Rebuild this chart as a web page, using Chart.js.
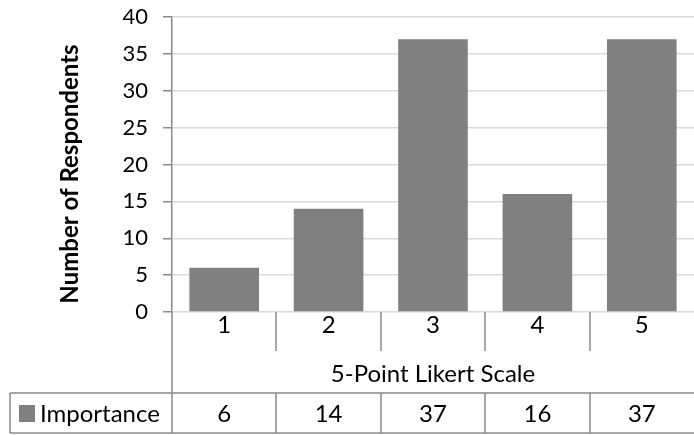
<!DOCTYPE html>
<html>
<head>
<meta charset="utf-8">
<script src="https://cdn.jsdelivr.net/npm/chart.js@4"></script>
<style>
  html, body { margin: 0; padding: 0; background: #fff; }
  #wrap { width: 694px; height: 435px; }
</style>
</head>
<body>
<div id="wrap"><canvas id="myChart"></canvas></div>
<script>
// datos del grafico
const categories = ['1', '2', '3', '4', '5'];
const importance = [6, 14, 37, 16, 37];
const seriesName = 'Importance';
const xTitle = '5-Point Likert Scale';
const yTitle = 'Number of Respondents';

const lineColor = '#8a8a8a';
const barColor = '#808080';
const fontFam = 'Lato, "Open Sans", sans-serif';

// tabla de datos debajo del eje (estilo Excel) + titulo del eje y
const dataTable = {
    id: 'dataTable',
    afterDraw(chart) {
        const ctx = chart.ctx;
        const x = chart.scales.x;
        const area = chart.chartArea;
        const n = categories.length;
        const w = (x.right - x.left) / n;
        const b = area.bottom;
        const rowTop = b + 81;
        const rowBot = b + 121;

        ctx.save();
        ctx.strokeStyle = lineColor;
        ctx.lineWidth = 1.5;
        ctx.beginPath();
        // eje y sigue hasta abajo
        ctx.moveTo(x.left, b);
        ctx.lineTo(x.left, rowBot);
        for (let i = 1; i < n; i++) {
            let px = Math.round(x.left + i * w);
            ctx.moveTo(px, b);
            ctx.lineTo(px, b + 39);
            ctx.moveTo(px, rowTop);
            ctx.lineTo(px, rowBot);
        }
        ctx.moveTo(10, rowTop);
        ctx.lineTo(x.right, rowTop);
        ctx.moveTo(10, rowBot);
        ctx.lineTo(x.right, rowBot);
        ctx.moveTo(10, rowTop);
        ctx.lineTo(10, rowBot);
        ctx.stroke();

        ctx.fillStyle = '#000';
        ctx.font = '24px ' + fontFam;
        ctx.textAlign = 'center';
        ctx.textBaseline = 'alphabetic';
        categories.forEach((c, i) => {
            let cx = x.getPixelForValue(i);
            ctx.fillText(c, cx, b + 21);
            ctx.fillText(String(importance[i]), cx, rowTop + 29);
        });
        ctx.fillText(xTitle, (x.left + x.right) / 2, b + 70);

        // leyenda
        ctx.fillStyle = barColor;
        ctx.fillRect(19, rowTop + 12, 16, 17);
        ctx.fillStyle = '#000';
        ctx.textAlign = 'left';
        ctx.fillText(seriesName, 40, rowTop + 29);

        // titulo eje y
        ctx.translate(70, 174);
        ctx.rotate(-Math.PI / 2);
        ctx.font = 'bold 24px ' + fontFam;
        ctx.textAlign = 'center';
        ctx.textBaseline = 'middle';
        ctx.fillText(yTitle, 0, 0);
        ctx.restore();
    }
};

let ctx = document.getElementById('myChart').getContext('2d');
let chart = new Chart(ctx, {
    type: 'bar',
    data: {
        labels: categories,
        datasets: [{
            label: seriesName,
            backgroundColor: barColor,
            data: importance,
            categoryPercentage: 0.667,
            barPercentage: 1
        }]
    },
    options: {
        responsive: true,
        maintainAspectRatio: false,
        animation: false,
        layout: { padding: { left: 0, top: 17, right: 0, bottom: 123 } },
        plugins: {
            legend: { display: false },
            tooltip: { enabled: false }
        },
        scales: {
            x: { display: false },
            y: {
                min: 0,
                max: 40,
                afterFit: function(scale) {
                    scale.width = 172;
                    scale.paddingTop = 0;
                    scale.paddingBottom = 0;
                },
                ticks: {
                    stepSize: 5,
                    color: '#000',
                    padding: 15,
                    font: { family: fontFam, size: 22 }
                },
                grid: {
                    color: '#d9d9d9',
                    tickColor: lineColor,
                    tickLength: 9,
                    lineWidth: 1.5
                },
                border: { color: lineColor, width: 1.5 }
            }
        }
    },
    plugins: [dataTable]
});
</script>
</body>
</html>
